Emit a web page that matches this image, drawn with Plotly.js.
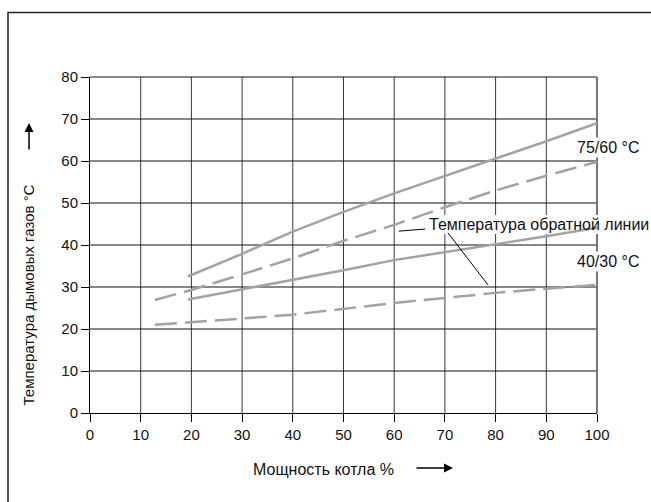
<!DOCTYPE html>
<html>
<head>
<meta charset="utf-8">
<script src="https://cdn.plot.ly/plotly-3.0.1.min.js"></script>
<style>html,body{margin:0;padding:0;background:#fff;}#chart{width:651px;height:502px;}</style>
</head>
<body>
<div id="chart"></div>
<script>
// Data
const xTicks = [0, 10, 20, 30, 40, 50, 60, 70, 80, 90, 100];
const yTicks = [0, 10, 20, 30, 40, 50, 60, 70, 80];

const supply7560X = [19.3, 30, 40, 50, 60, 70, 80, 90, 100];
const supply7560Y = [32.5, 37.9, 43.2, 47.9, 52.3, 56.4, 60.5, 64.7, 69.0];

const return7560X = [12.8, 20, 30, 40, 50, 60, 70, 80, 90, 100];
const return7560Y = [26.9, 29.3, 33.0, 36.8, 41.0, 44.8, 49.0, 53.0, 56.5, 59.8];

const supply4030X = [19.3, 30, 40, 50, 60, 70, 80, 90, 100];
const supply4030Y = [27.0, 29.4, 31.7, 34.0, 36.4, 38.3, 40.1, 42.1, 44.1];

const return4030X = [12.8, 20, 30, 40, 50, 60, 70, 80, 90, 100];
const return4030Y = [21.0, 21.7, 22.5, 23.4, 24.8, 26.2, 27.4, 28.6, 29.6, 30.5];

const labelHigh = '75/60 °C';
const labelLow = '40/30 °C';
const labelReturn = 'Температура обратной линии';
const xTitle = 'Мощность котла %';
const yTitle = 'Температура дымовых газов °C';

const lineColor = '#a3a3a3';
const solid = {color: lineColor, width: 2.5};
const dashed = {color: lineColor, width: 2.5, dash: '22px,8px'};

const traces = [
  {x: supply7560X, y: supply7560Y, mode: 'lines', line: solid, hoverinfo: 'skip'},
  {x: return7560X, y: return7560Y, mode: 'lines', line: dashed, hoverinfo: 'skip'},
  {x: supply4030X, y: supply4030Y, mode: 'lines', line: solid, hoverinfo: 'skip'},
  {x: return4030X, y: return4030Y, mode: 'lines', line: dashed, hoverinfo: 'skip'}
];

const font = {family: 'Liberation Sans, Arial, sans-serif', color: '#111', size: 15};

// grid drawn as shapes so a white box can sit between grid and curves
const gridShapes = [];
xTicks.slice(1, -1).forEach(v => gridShapes.push({
  type: 'line', xref: 'x', yref: 'paper', x0: v, x1: v, y0: 0, y1: 1,
  line: {color: '#3a3a3a', width: 1}, layer: 'below'}));
yTicks.slice(1, -1).forEach(v => gridShapes.push({
  type: 'line', xref: 'paper', yref: 'y', x0: 0, x1: 1, y0: v, y1: v,
  line: {color: '#111', width: 1}, layer: 'below'}));

const px = v => (v - 90) / 507;      // pixel x -> paper
const py = v => (413 - v) / 336;     // pixel y -> paper

const layout = {
  width: 651, height: 502,
  margin: {l: 90, r: 54, t: 77, b: 89},
  paper_bgcolor: '#fff', plot_bgcolor: '#fff',
  showlegend: false,
  font: font,
  xaxis: {
    range: [0, 100], tickvals: xTicks, ticktext: xTicks.map(String),
    showgrid: false,
    zeroline: false, showline: true, linecolor: '#000', linewidth: 1,
    ticks: 'outside', ticklen: 8, tickcolor: '#000',
    tickfont: {size: 15, color: '#111'}, fixedrange: true
  },
  yaxis: {
    range: [0, 80], tickvals: yTicks, ticktext: yTicks.map(String),
    showgrid: false,
    zeroline: false, showline: true, linecolor: '#000', linewidth: 1,
    ticks: 'outside', ticklen: 8, tickcolor: '#000',
    tickfont: {size: 15, color: '#111'}, fixedrange: true
  },
  shapes: [
    // outer frame
    {type: 'rect', xref: 'paper', yref: 'paper', x0: px(8), x1: 1.2, y0: -0.35, y1: py(12.5),
     line: {color: '#222', width: 1.5}, fillcolor: 'rgba(0,0,0,0)', layer: 'below'},
    ...gridShapes,
    // top and right plot borders
    {type: 'line', xref: 'paper', yref: 'paper', x0: 0, x1: 1, y0: 1, y1: 1, line: {color: '#111', width: 1}, layer: 'below'},
    {type: 'line', xref: 'paper', yref: 'paper', x0: 1, x1: 1, y0: 0, y1: 1, line: {color: '#777', width: 2}, layer: 'below'},
    // white box behind the return-line label (hides grid, curves stay on top)
    {type: 'rect', xref: 'paper', yref: 'paper', x0: px(426), x1: px(651),
     y0: py(234), y1: py(215),
     line: {width: 0}, fillcolor: '#fff', layer: 'below'},
    // callout lines
    {type: 'line', xref: 'x', yref: 'y', x0: 60.9, y0: 43.3, x1: 66.1, y1: 43.8, line: {color: '#000', width: 1}},
    {type: 'line', xref: 'x', yref: 'y', x0: 70.6, y0: 42.9, x1: 78.5, y1: 30.5, line: {color: '#000', width: 1}}
  ],
  annotations: [
    {xref: 'x', yref: 'y', x: 95.7, y: 63.3, text: labelHigh, showarrow: false, xanchor: 'left', yanchor: 'middle',
     font: {size: 16, color: '#111'}, bgcolor: '#fff'},
    {xref: 'x', yref: 'y', x: 95.7, y: 36.0, text: labelLow, showarrow: false, xanchor: 'left', yanchor: 'middle',
     font: {size: 16, color: '#111'}, bgcolor: '#fff'},
    {xref: 'x', yref: 'y', x: 66.4, y: 45.0, text: labelReturn, showarrow: false, xanchor: 'left', yanchor: 'middle',
     font: {size: 16, color: '#111'}},
    // axis titles
    {xref: 'paper', yref: 'paper', x: px(323), y: py(469), text: xTitle, showarrow: false,
     xanchor: 'center', yanchor: 'middle', font: {size: 16, color: '#111'}},
    {xref: 'paper', yref: 'paper', x: px(28), y: py(295.5), text: yTitle, showarrow: false,
     textangle: -90, xanchor: 'center', yanchor: 'middle', font: {size: 15, color: '#111'}},
    // axis arrows
    {xref: 'paper', yref: 'paper', x: px(453), y: py(468), ax: -38, ay: 0, text: '',
     showarrow: true, arrowhead: 2, arrowsize: 1.2, arrowwidth: 1.5, arrowcolor: '#000'},
    {xref: 'paper', yref: 'paper', x: px(29), y: py(123), ax: 0, ay: 28, text: '',
     showarrow: true, arrowhead: 2, arrowsize: 1.2, arrowwidth: 1.5, arrowcolor: '#000'}
  ]
};

Plotly.newPlot('chart', traces, layout, {displayModeBar: false, staticPlot: true});
</script>
</body>
</html>
